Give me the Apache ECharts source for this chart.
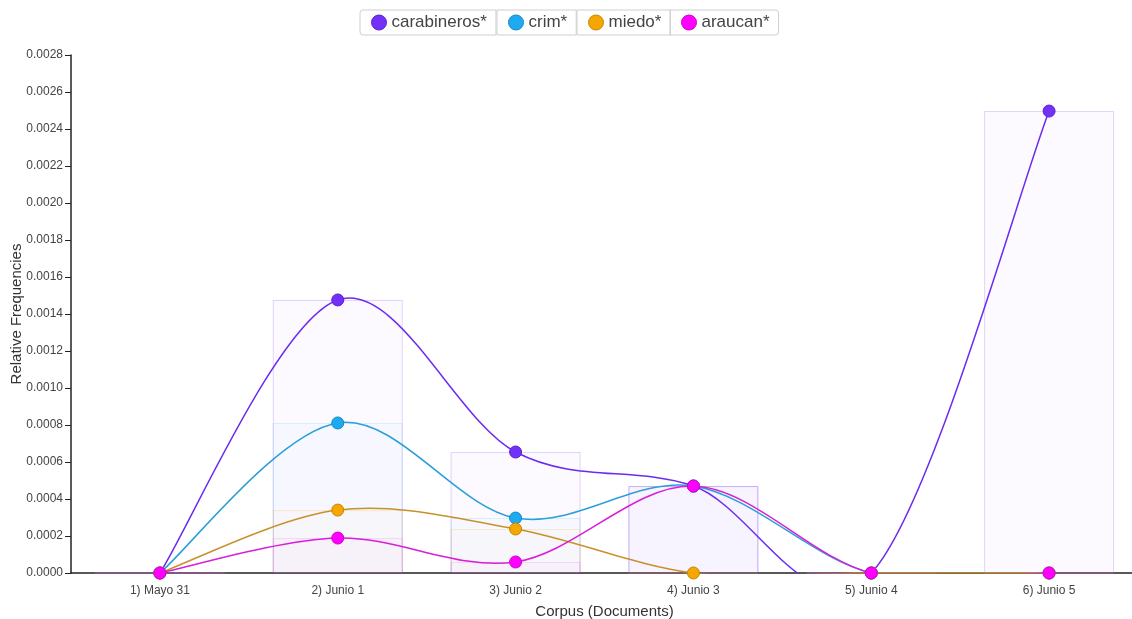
<!DOCTYPE html>
<html>
<head>
<meta charset="utf-8">
<script src="https://cdn.jsdelivr.net/npm/echarts@6/dist/echarts.min.js"></script>
<style>html,body{margin:0;padding:0;background:#fff;overflow:hidden}#c{width:1132px;height:619px}</style>
</head>
<body>
<div id="c"></div>
<script>
const categories = ['1) Mayo 31', '2) Junio 1', '3) Junio 2', '4) Junio 3', '5) Junio 4', '6) Junio 5'];
const yTicks = { min: 0, max: 0.0028, interval: 0.0002 };
const seriesNames = ['carabineros*', 'crim*', 'miedo*', 'araucan*'];
const carabineros = [0, 0.001476, 0.000654, 0.00047, 0, 0.002497];
const crim = [0, 0.000811, 0.000297, 0.00047, 0, 0];
const miedo = [0, 0.00034, 0.000238, 0, 0, 0];
const araucan = [0, 0.000189, 0.0000595, 0.00047, 0, 0];
const seriesData = [carabineros, crim, miedo, araucan];

const markerColors = ['#7330f6', '#1eaaf1', '#f5a600', '#ff00ff'];
const markerBorders = ['#5a20d0', '#1588c8', '#c98600', '#d000d0'];
const lineColors = ['#6a2cf0', '#2a9fd8', '#c8902a', '#d61fd6'];
const barFills = ['rgba(115,48,246,0.025)', 'rgba(30,170,241,0.025)', 'rgba(245,166,0,0.02)', 'rgba(255,0,255,0.02)'];
const barBorders = ['rgba(115,48,246,0.2)', 'rgba(30,170,241,0.14)', 'rgba(245,166,0,0.18)', 'rgba(255,0,255,0.14)'];

const chart = echarts.init(document.getElementById('c'), null, { renderer: 'canvas' });
const font = 'Liberation Sans, Helvetica, Arial, sans-serif';

// Catmull-Rom curve segment between data points i and i+1, positioned by the axes
function makeCurveRenderer(values, color) {
  return function (params, api) {
    const i = params.dataIndex;
    const n = values.length;
    if (i >= n - 1) return null;
    const p = k => api.coord([Math.max(0, Math.min(n - 1, k)), values[Math.max(0, Math.min(n - 1, k))]]);
    const p0 = p(i - 1), p1 = p(i), p2 = p(i + 1), p3 = p(i + 2);
    const cs = params.coordSys;
    return {
      type: 'group',
      clipPath: { type: 'rect', shape: { x: cs.x, y: cs.y, width: cs.width, height: cs.height + 0.5 } },
      children: [{
        type: 'bezierCurve',
        shape: {
          x1: p1[0], y1: p1[1], x2: p2[0], y2: p2[1],
          cpx1: p1[0] + (p2[0] - p0[0]) / 6, cpy1: p1[1] + (p2[1] - p0[1]) / 6,
          cpx2: p2[0] - (p3[0] - p1[0]) / 6, cpy2: p2[1] - (p3[1] - p1[1]) / 6
        },
        style: { stroke: color, fill: null, lineWidth: 1.5 }
      }]
    };
  };
}

const series = [];
seriesNames.forEach((n, i) => {
  series.push({
    name: n, type: 'bar', data: seriesData[i], barWidth: 130, barGap: '-100%', z: 1,
    itemStyle: { color: barFills[i], borderColor: barBorders[i], borderWidth: 1 },
    emphasis: { disabled: true }, silent: true
  });
});
seriesNames.forEach((n, i) => {
  series.push({
    name: n, type: 'custom', z: 3 + i, silent: true,
    data: seriesData[i].map((v, k) => [k, v]),
    encode: { x: 0, y: 1 },
    renderItem: makeCurveRenderer(seriesData[i], lineColors[i])
  });
});
seriesNames.forEach((n, i) => {
  series.push({
    name: n, type: 'line', data: seriesData[i], z: 10 + i,
    symbol: 'circle', symbolSize: 12, showAllSymbol: true,
    lineStyle: { width: 0, opacity: 0 },
    itemStyle: { color: markerColors[i], borderColor: markerBorders[i], borderWidth: 1 }
  });
});

const legendLefts = [360, 497, 577, 670];
const legends = seriesNames.map((n, i) => ({
  left: legendLefts[i], top: 10, orient: 'horizontal',
  data: [{ name: n, itemStyle: { color: markerColors[i], borderColor: markerBorders[i], borderWidth: 1 } }],
  icon: 'circle', itemWidth: 15, itemHeight: 15, itemGap: 0,
  padding: [4, 9, 4, 11],
  borderColor: '#cfcfcf', borderWidth: 1, borderRadius: i === 0 ? [3, 0, 0, 3] : (i === 3 ? [0, 3, 3, 0] : 0),
  textStyle: { fontFamily: font, fontSize: 17, color: '#444' }
}));

chart.setOption({
  animation: false,
  backgroundColor: '#fff',
  legend: legends,
  grid: { left: 71, right: -6, top: 55, bottom: 46, containLabel: false, outerBoundsMode: 'none' },
  xAxis: {
    type: 'category', data: categories, boundaryGap: true,
    name: 'Corpus (Documents)', nameLocation: 'middle', nameGap: 31,
    nameTextStyle: { fontFamily: font, fontSize: 15, color: '#333' },
    axisLine: { lineStyle: { color: '#222', width: 1.5 } },
    axisTick: { alignWithLabel: true, length: 4, lineStyle: { color: '#222' } },
    axisLabel: { fontFamily: font, fontSize: 12, color: '#444', margin: 12 },
    splitLine: { show: false }
  },
  yAxis: {
    type: 'value', min: yTicks.min, max: yTicks.max, interval: yTicks.interval,
    name: 'Relative Frequencies', nameLocation: 'middle', nameGap: 47, nameMoveOverlap: false,
    nameTextStyle: { fontFamily: font, fontSize: 15, color: '#333' },
    axisLine: { show: true, lineStyle: { color: '#222', width: 1.5 } },
    axisTick: { show: true, length: 6, lineStyle: { color: '#222' } },
    axisLabel: { fontFamily: font, fontSize: 12, color: '#444', margin: 8, formatter: v => v.toFixed(4) },
    splitLine: { show: false }
  },
  series: series
});
</script>
</body>
</html>
